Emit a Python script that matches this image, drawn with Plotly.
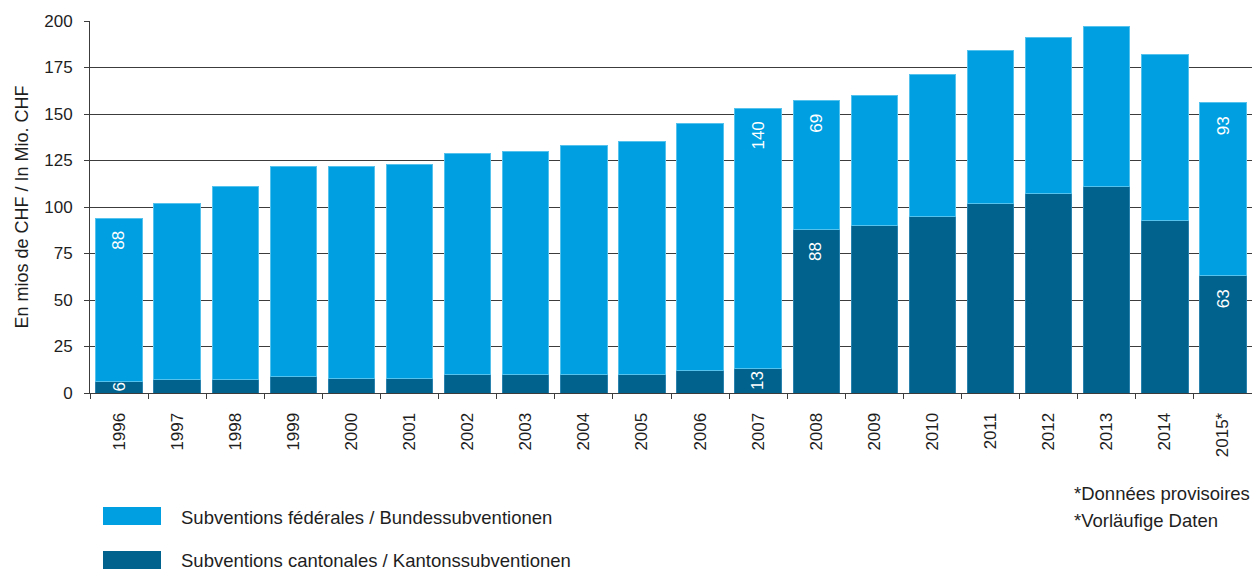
import plotly.graph_objects as go

# Subsidies per year (million CHF)
years = ["1996", "1997", "1998", "1999", "2000", "2001", "2002", "2003", "2004", "2005",
         "2006", "2007", "2008", "2009", "2010", "2011", "2012", "2013", "2014", "2015*"]
cantonal = [6, 7, 7, 9, 8, 8, 10, 10, 10, 10, 12, 13, 88, 90, 95, 102, 107, 111, 93, 63]
federal = [88, 95, 104, 113, 114, 115, 119, 120, 123, 125, 133, 140, 69, 70, 76, 82, 84, 86, 89, 93]

# Years whose segment values are printed on the bars
labelled_years = ["1996", "2007", "2008", "2015*"]

y_ticks = [0, 25, 50, 75, 100, 125, 150, 175, 200]

fed_name = "Subventions fédérales / Bundessubventionen"
cant_name = "Subventions cantonales / Kantonssubventionen"
notes = ["*Données provisoires", "*Vorläufige Daten"]

FED_COLOR = "#009FE2"
CANT_COLOR = "#00628D"
TEXT_COLOR = "#1e1e1e"
LINE_COLOR = "#3c3c3c"
FONT = "Liberation Sans"

W, H = 1252, 571
L, R, T, B = 90, 0, 21, 178
PW, PH = W - L - R, H - T - B

fig = go.Figure()
fig.add_trace(go.Bar(x=years, y=cantonal, name=cant_name, marker_color=CANT_COLOR,
                     marker_line=dict(color="#2a82ad", width=1), showlegend=False))
fig.add_trace(go.Bar(x=years, y=federal, name=fed_name, marker_color=FED_COLOR,
                     marker_line=dict(color="#55c2ee", width=1), showlegend=False))

annotations = []
px_per_unit = PH / 200.0
for yr in labelled_years:
    i = years.index(yr)  # category index on the x axis
    segments = [(0, cantonal[i]), (cantonal[i], federal[i])]
    for base, val in segments:
        if val * px_per_unit < 30:
            # short segment: centre the value inside it
            annotations.append(dict(x=i, y=base + val / 2, text=str(val), textangle=-90,
                                    showarrow=False, yanchor="middle", xanchor="center",
                                    font=dict(family=FONT, size=17, color="white")))
        else:
            annotations.append(dict(x=i, y=base + val, text=str(val), textangle=-90,
                                    showarrow=False, yanchor="top", xanchor="center",
                                    yshift=-11,
                                    font=dict(family=FONT, size=17, color="white")))

def px_x(p):
    return (p - L) / PW

def px_y(p):
    return (H - B - p) / PH

# Legend drawn as wide swatches with labels
shapes = []
for (y0, y1), color, name, ty in [((507, 525), FED_COLOR, fed_name, 517),
                                  ((551, 569), CANT_COLOR, cant_name, 560)]:
    shapes.append(dict(type="rect", xref="paper", yref="paper",
                       x0=px_x(103), x1=px_x(161), y0=px_y(y1), y1=px_y(y0),
                       fillcolor=color, line=dict(width=0)))
    annotations.append(dict(xref="paper", yref="paper", x=px_x(180), y=px_y(ty),
                            text=name, showarrow=False, xanchor="left", yanchor="middle",
                            borderpad=0,
                            font=dict(family=FONT, size=18.5, color=TEXT_COLOR)))

for note, ty in zip(notes, [493, 520]):
    annotations.append(dict(xref="paper", yref="paper", x=px_x(1072), y=px_y(ty),
                            text=note, showarrow=False, xanchor="left", yanchor="middle",
                            font=dict(family=FONT, size=18.5, color=TEXT_COLOR)))

fig.update_layout(
    width=W, height=H,
    margin=dict(l=L, r=R, t=T, b=B, autoexpand=False),
    barmode="stack", bargap=0.2,
    plot_bgcolor="white", paper_bgcolor="white",
    font=dict(family=FONT, size=18, color=TEXT_COLOR),
    shapes=shapes, annotations=annotations,
    xaxis=dict(type="category", categoryorder="array", categoryarray=years,
               range=[-0.5, len(years) - 0.5],
               tickangle=-90, tickson="boundaries", ticks="outside", ticklen=5,
               tickwidth=1, tickcolor=LINE_COLOR, showline=True, linecolor=LINE_COLOR,
               linewidth=1, showgrid=False, tickfont=dict(size=17),
               ticklabelstandoff=12, automargin=False),
    yaxis=dict(range=[0, 200], tickvals=y_ticks, ticks="outside", ticklen=5,
               tickcolor=LINE_COLOR, showline=True, linecolor=LINE_COLOR, linewidth=1,
               showgrid=True, gridcolor=LINE_COLOR, gridwidth=1, zeroline=False,
               tickfont=dict(size=17), ticklabelstandoff=8, automargin=False,
               title=dict(text="En mios de CHF / In Mio. CHF", standoff=10,
                          font=dict(size=18))),
)

fig.write_html("out.html")
